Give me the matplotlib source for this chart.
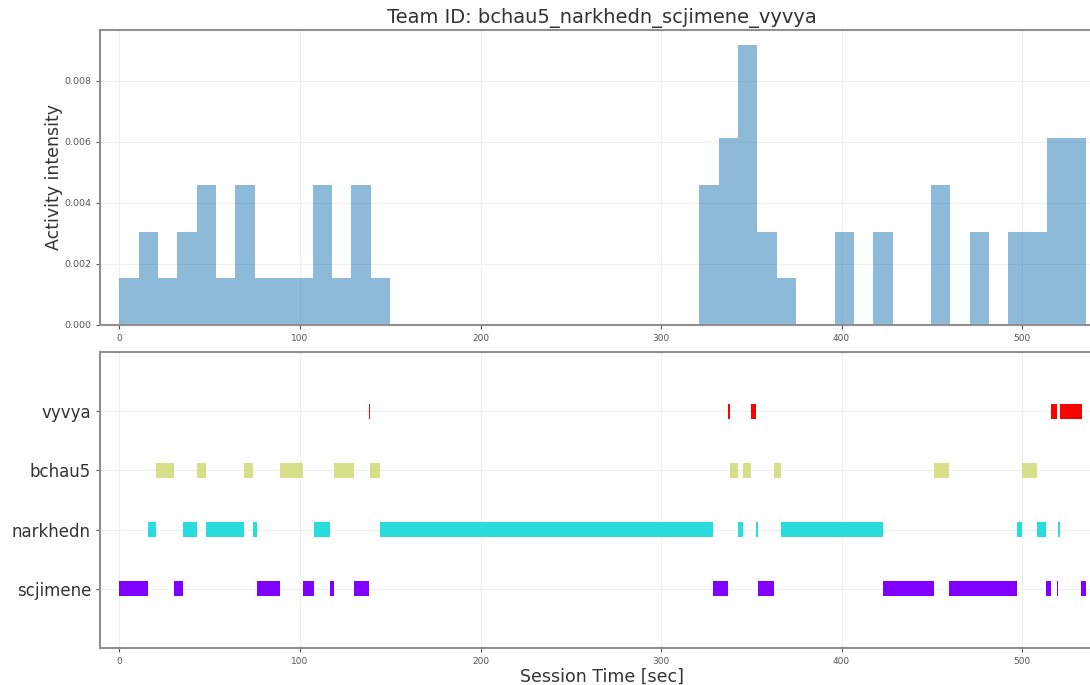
import numpy as np
import matplotlib
matplotlib.use("Agg")
import matplotlib.pyplot as plt

title = "Team ID: bchau5_narkhedn_scjimene_vyvya"

# histogram: 50 equal bins between hist_start and hist_end, counts per bin
hist_start, hist_end, n_bins = 0.0, 535.3, 50
hist_counts = [1, 2, 1, 2, 3, 1, 3, 1, 1, 1, 3, 1, 3, 1,
               0, 0, 0, 0, 0, 0, 0, 0, 0, 0, 0, 0, 0, 0, 0, 0,
               3, 4, 6, 2, 1, 0, 0, 2, 0, 2, 0, 0, 3, 0, 2, 0, 2, 2, 4, 4]

users = ["scjimene", "narkhedn", "bchau5", "vyvya"]
scjimene = [(0.0, 15.6), (30.2, 35.0), (76.3, 88.9), (101.8, 107.8), (116.8, 119.0),
            (130.1, 138.2), (329.0, 337.3), (353.9, 362.8), (422.8, 451.2),
            (459.4, 475.8), (475.8, 479.0), (479.0, 497.1), (513.3, 516.1),
            (519.2, 520.1), (532.5, 535.3)]
narkhedn = [(15.6, 20.0), (35.0, 42.8), (47.8, 59.9), (59.9, 69.1), (74.0, 76.3),
            (107.8, 112.0), (112.0, 116.8), (144.2, 320.7), (320.7, 322.6),
            (322.6, 329.0), (342.8, 345.6), (352.5, 353.9), (366.3, 396.0),
            (396.0, 417.6), (417.6, 422.8), (497.1, 499.8), (508.1, 513.3),
            (520.1, 521.0)]
bchau5 = [(20.0, 30.2), (42.8, 47.8), (69.1, 74.0), (88.9, 101.8), (119.0, 130.1),
          (138.6, 144.2), (338.2, 342.8), (345.6, 349.7), (362.8, 366.3),
          (451.2, 459.4), (499.8, 508.1)]
vyvya = [(138.0, 138.7), (337.3, 338.2), (349.7, 352.5), (516.1, 519.2),
         (521.0, 529.7), (529.7, 533.1)]
segments = [scjimene, narkhedn, bchau5, vyvya]

xlim = (-10.8, 545.4)

text_c = "#333333"
spine_c = "#8f8f8f"
grid_c = "#ebf1eb"

fig = plt.figure(figsize=(10.9, 6.85), dpi=100)
ax1 = fig.add_axes([100/1090, (685-325)/685, (1104-100)/1090, 295/685])
ax2 = fig.add_axes([100/1090, (685-648)/685, (1104-100)/1090, 296/685])

edges = np.linspace(hist_start, hist_end, n_bins + 1)
ax1.hist(edges[:-1], bins=edges, weights=hist_counts, density=True,
         color="C0", alpha=0.5)
ax1.set_xlim(*xlim)
ax1.set_ylim(0, 0.00967)
ax1.set_yticks([0, 0.002, 0.004, 0.006, 0.008])
ax1.set_yticklabels(["0.000", "0.002", "0.004", "0.006", "0.008"])
ax1.set_xticks([0, 100, 200, 300, 400, 500])
ax1.set_ylabel("Activity intensity", fontsize=12.5, color=text_c, labelpad=1)
ax1.set_title(title, fontsize=14, color=text_c, pad=5)

colors = plt.cm.rainbow(np.linspace(0, 1, len(users)))
alphas = [1.0, 1.0, 0.93, 1.0]
for i, (segs, col) in enumerate(zip(segments, colors)):
    y = i + 1
    ax2.broken_barh([(s, e - s) for s, e in segs], (y - 0.125, 0.25),
                    facecolors=col, edgecolor="none", alpha=alphas[i])
ax2.set_xlim(*xlim)
ax2.set_ylim(0, 5)
ax2.set_yticks([1, 2, 3, 4])
ax2.set_yticklabels(users, fontsize=12, color=text_c)
ax2.set_xticks([0, 100, 200, 300, 400, 500])
ax2.set_xlabel("Session Time [sec]", fontsize=12.5, color=text_c, labelpad=1)

for ax in (ax1, ax2):
    ax.set_axisbelow(True)
    ax.grid(True, color=grid_c, lw=0.8)
    for sp in ax.spines.values():
        sp.set_color(spine_c)
        sp.set_linewidth(1.5)
    ax.tick_params(axis="both", colors="#555555", length=3, width=0.8)
    ax.tick_params(axis="x", labelsize=6.5)
ax1.tick_params(axis="y", labelsize=6.8)
ax2.tick_params(axis="y", labelsize=12, labelcolor=text_c)

fig.savefig("out.png", dpi=100)
